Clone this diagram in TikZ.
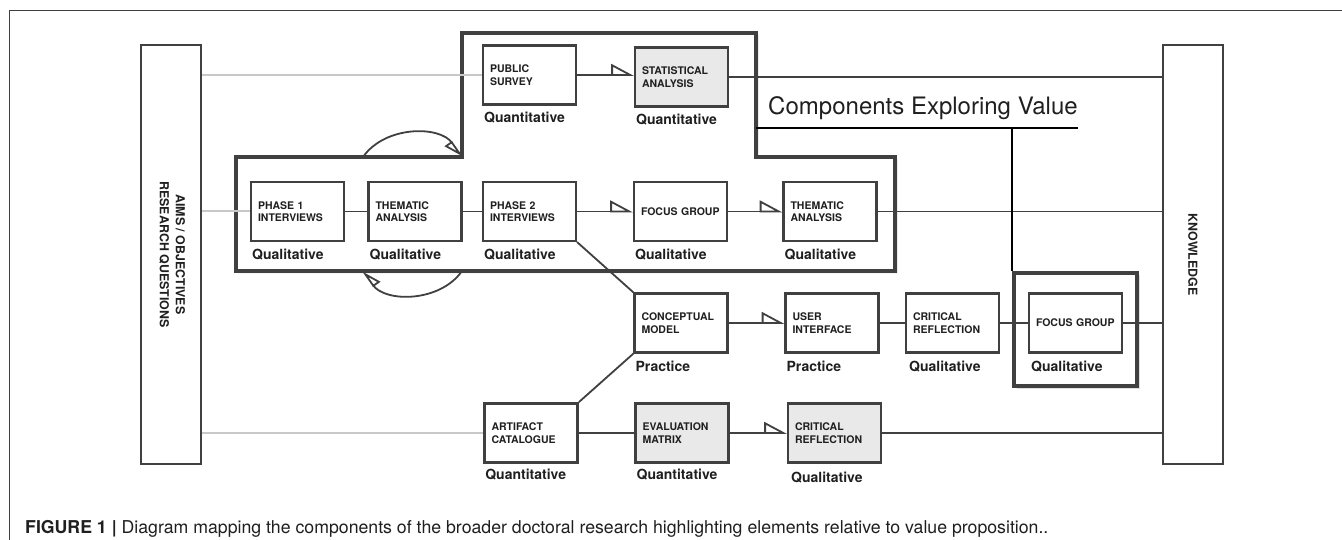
\documentclass[tikz,border=0pt]{standalone}
\usepackage{fontspec}
\setmainfont{TeX Gyre Heros}
\usepackage{xcolor}
\usepackage{tikz}
\usetikzlibrary{arrows.meta, positioning, shadows}
\definecolor{edgegray}{RGB}{64,64,64}
\definecolor{fadegray}{RGB}{200,200,200}
\definecolor{boxfill}{RGB}{233,233,233}

\begin{document}
\begin{tikzpicture}[x=1pt, y=-1pt,
    every node/.style={text=black!88},
    box/.style={draw=edgegray, line width=2.1pt, minimum height=59pt, text width=79pt,
      inner xsep=7pt, align=left, font=\fontsize{10.5}{12.5}\selectfont\bfseries},
    greybox/.style={box, fill=boxfill},
    bar/.style={draw=edgegray, line width=2.3pt, minimum width=60pt, minimum height=419pt,
      font=\fontsize{12.4}{16}\selectfont\bfseries},
    tag/.style={inner sep=0pt, font=\fontsize{14}{16}\selectfont\bfseries},
    outline/.style={draw=edgegray, line width=3.6pt, fill=white,
      drop shadow={shadow xshift=2.5pt, shadow yshift=-2.5pt, fill=black!25}},
    link/.style={draw=edgegray, line width=1.8pt},
    faint/.style={draw=fadegray, line width=2pt},
    flow/.style={link, -{Triangle[open, left, length=21pt, width=22pt]}},
    loopback/.style={link, -{Triangle[open, right, length=17pt, width=16pt]}},
    valueline/.style={draw=black, line width=2.4pt}]
  \useasboundingbox (0,0) rectangle (1342,540);

  % figure frame
  \draw[edgegray, line width=1pt] (9,540) -- (9,11) -- (1342,11);

  % groups
  \draw[outline] (236,157) -- (462,157) -- (462,33) -- (756,33) -- (756,157)
    -- (895,157) -- (895,271) -- (236,271) -- cycle;
  \node[outline, minimum width=123pt, minimum height=113pt] (fgout) at (1075.5,329.5) {};

  % side bars
  \node[bar] (aims) at (171,254.5) {\rotatebox{-90}{\begin{tabular}{@{}c@{}}AIMS / OBJECTIVES\\RESEARCH QUESTIONS\end{tabular}}};
  \node[bar] (know) at (1193,254.5) {\rotatebox{-90}{KNOWLEDGE}};

  % components
  \node[box] (ps) at (529.5,75) {PUBLIC\\SURVEY};
  \node[greybox] (sa) at (681.5,77) {STATISTICAL\\ANALYSIS};
  \node[box] (p1) at (297.5,211.5) {PHASE 1\\INTERVIEWS};
  \node[box] (ta1) at (415,211.5) {THEMATIC\\ANALYSIS};
  \node[box] (p2) at (529.5,211.5) {PHASE 2\\INTERVIEWS};
  \node[box] (fg1) at (680.5,211.5) {FOCUS GROUP};
  \node[box] (ta2) at (830,211.5) {THEMATIC\\ANALYSIS};
  \node[box] (cm) at (681,323) {CONCEPTUAL\\MODEL};
  \node[box] (ui) at (832,323) {USER\\INTERFACE};
  \node[box] (cr1) at (952.5,323) {CRITICAL\\REFLECTION};
  \node[box] (fg2) at (1075.5,323) {FOCUS GROUP};
  \node[box, line width=2.8pt] (ac) at (531,433) {ARTIFACT\\CATALOGUE};
  \node[greybox] (em) at (682,433) {EVALUATION\\MATRIX};
  \node[greybox] (cr2) at (834.5,433) {CRITICAL\\REFLECTION};

  % method tags
  \node[tag, below right=6pt and 2pt of ps.south west] (psq) {Quantitative};
  \node[tag, below right=6pt and 2pt of sa.south west] (saq) {Quantitative};
  \node[tag, below right=7pt and 2pt of p1.south west] (p1q) {Qualitative};
  \node[tag, below right=7pt and 2pt of ta1.south west] (ta1q) {Qualitative};
  \node[tag, below right=7pt and 2pt of p2.south west] (p2q) {Qualitative};
  \node[tag, below right=7pt and 2pt of fg1.south west] (fg1q) {Qualitative};
  \node[tag, below right=7pt and 2pt of ta2.south west] (ta2q) {Qualitative};
  \node[tag, below right=7pt and 2pt of cm.south west] (cmq) {Practice};
  \node[tag, below right=7pt and 2pt of ui.south west] (uiq) {Practice};
  \node[tag, below right=7pt and 4pt of cr1.south west] (cr1q) {Qualitative};
  \node[tag, below right=7pt and 3pt of fg2.south west] (fg2q) {Qualitative};
  \node[tag, below right=5pt and 2pt of ac.south west] (acq) {Quantitative};
  \node[tag, below right=5pt and 2pt of em.south west] (emq) {Quantitative};
  \node[tag, below right=8pt and 4pt of cr2.south west] (cr2q) {Qualitative};

  % from aims
  \draw[faint] (aims.east |- ps.west) -- (ps.west);
  \draw[faint] (aims.east |- p1.west) -- (p1.west);
  \draw[faint] (aims.east |- ac.west) -- (ac.west);

  % links
  \draw[flow] (ps.east) -- (ps.east -| sa.west);
  \draw[link] (p1) -- (ta1);
  \draw[link] (ta1) -- (p2);
  \draw[flow] (p2) -- (fg1);
  \draw[flow] (fg1) -- (ta2);
  \draw[link] (p2.south east) -- (cm.north west);
  \draw[link] (ac.north east) -- (cm.south west);
  \draw[flow] (cm) -- (ui);
  \draw[link] (ui) -- (cr1);
  \draw[link] (cr1) -- (fg2);
  \draw[link] (ac) -- (em);
  \draw[flow] (em) -- (cr2);

  % to knowledge
  \draw[link] (sa.east) -- (sa.east -| know.west);
  \draw[link] (ta2.east) -- (ta2.east -| know.west);
  \draw[link] (fg2.east) -- (fg2.east -| know.west);
  \draw[link] (cr2.east) -- (cr2.east -| know.west);

  % iteration loops
  \coordinate (upA) at (363,157);
  \coordinate (upB) at (462,157);
  \coordinate (loA) at (462,271);
  \coordinate (loB) at (363,271);
  \draw[loopback] (upA) to[bend left=55] (upB);
  \draw[loopback] (loA) to[bend left=55] (loB);

  % value components
  \node[anchor=base west, inner sep=0pt, font=\fontsize{24}{28}\selectfont] (cev) at (768,115) {Components Exploring Value};
  \coordinate (cevL) at (756,128);
  \coordinate (cevR) at (1078,128);
  \draw[valueline] (cevL) -- (cevR);
  \draw[valueline, line width=2pt] (fgout.north west) -- (fgout.north west |- cevR);

  % caption
  \node[anchor=base west, inner sep=0pt, font=\fontsize{17.7}{20}\selectfont] (caption) at (25,533)
    {\textbf{FIGURE 1 |} Diagram mapping the components of the broader doctoral research highlighting elements relative to value proposition..};
\end{tikzpicture}
\end{document}
